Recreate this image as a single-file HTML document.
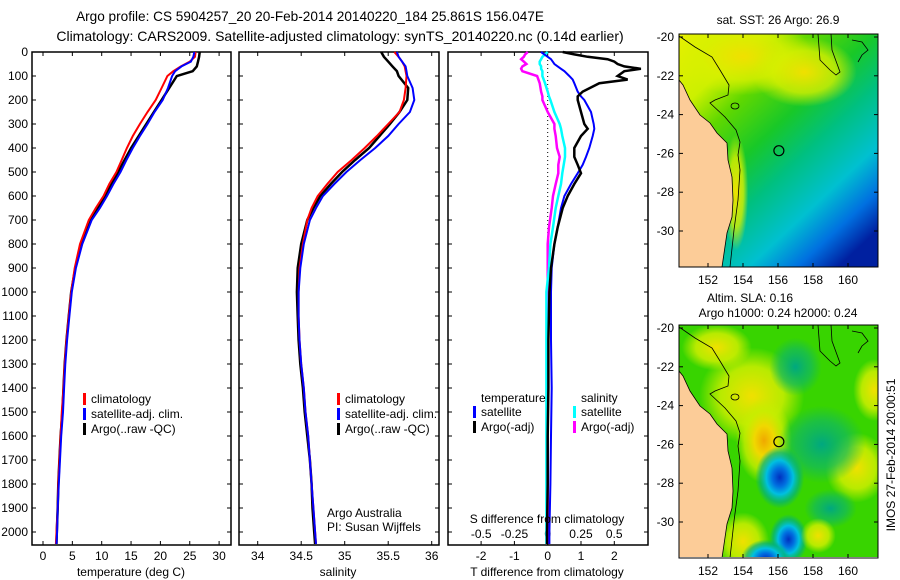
<!DOCTYPE html>
<html><head><meta charset="utf-8"><style>
html,body{margin:0;padding:0;background:#fff;}
svg{display:block;font-family:"Liberation Sans",sans-serif;}
text{fill:#000;}
</style></head><body>
<svg id="fig" width="900" height="580" viewBox="0 0 900 580" xmlns="http://www.w3.org/2000/svg">
<defs>
<linearGradient id="sstGrad" x1="0" y1="0" x2="0.8" y2="1">
<stop offset="0" stop-color="#e8f000"/><stop offset="0.2" stop-color="#ccf000"/><stop offset="0.32" stop-color="#60d800"/><stop offset="0.48" stop-color="#18c828"/><stop offset="0.62" stop-color="#00c080"/><stop offset="0.78" stop-color="#00c0d0"/><stop offset="0.9" stop-color="#0070e0"/><stop offset="1" stop-color="#0020a0"/></linearGradient>
<radialGradient id="bYel"><stop offset="0" stop-color="#f0a800"/><stop offset="0.35" stop-color="#f0d800"/><stop offset="0.7" stop-color="#c8ee00" stop-opacity="0.8"/><stop offset="1" stop-color="#c8ee00" stop-opacity="0"/></radialGradient>
<radialGradient id="bYel2"><stop offset="0" stop-color="#f0e000"/><stop offset="0.6" stop-color="#d8f000" stop-opacity="0.8"/><stop offset="1" stop-color="#d8f000" stop-opacity="0"/></radialGradient>
<radialGradient id="bBlue"><stop offset="0" stop-color="#0030c0"/><stop offset="0.3" stop-color="#0070e0"/><stop offset="0.55" stop-color="#00c0e0"/><stop offset="0.8" stop-color="#00b080" stop-opacity="0.7"/><stop offset="1" stop-color="#00b080" stop-opacity="0"/></radialGradient>
<radialGradient id="bTeal"><stop offset="0" stop-color="#00a880"/><stop offset="0.6" stop-color="#10b860" stop-opacity="0.7"/><stop offset="1" stop-color="#10b860" stop-opacity="0"/></radialGradient>
<clipPath id="clipTop"><rect x="679" y="34" width="199" height="233"/></clipPath>
<clipPath id="clipBot"><rect x="679" y="325" width="199" height="232"/></clipPath>
</defs>
<text x="310" y="21" font-size="13.6" text-anchor="middle">Argo profile: CS 5904257_20 20-Feb-2014 20140220_184 25.861S 156.047E</text>
<text x="340" y="41" font-size="14" text-anchor="middle">Climatology: CARS2009. Satellite-adjusted climatology: synTS_20140220.nc (0.14d earlier)</text>
<g id="g1"></g>
<g id="g2"></g>
<g id="g3"></g>
<g id="m1"></g>
<g id="m2"></g>
<text transform="translate(895,455) rotate(-90)" font-size="12" text-anchor="middle">IMOS 27-Feb-2014 20:00:51</text>
</svg>
<script>
// ---- data ----
const depthsTS = [0,20,40,60,80,100,150,200,250,300,350,400,450,500,550,600,650,700,800,900,1000,1100,1200,1300,1400,1500,1600,1700,1800,1900,2000,2050];
const tempClim = [26.0,25.9,25.0,23.5,22.2,21.2,20.2,19.2,17.8,16.5,15.3,14.3,13.4,12.5,11.3,10.3,9.0,7.8,6.3,5.4,4.8,4.4,4.0,3.7,3.5,3.2,3.0,2.8,2.6,2.5,2.3,2.2];
const tempSat = [25.8,25.6,25.2,23.6,22.5,22.0,21.3,20.4,19.0,17.8,16.5,15.3,14.2,13.2,12.0,10.9,9.7,8.3,6.7,5.6,4.9,4.5,4.1,3.8,3.6,3.4,3.1,2.9,2.7,2.5,2.4,2.3];
const tempArgo = [26.7,26.6,26.4,26.2,25.5,22.8,21.5,20.2,18.9,17.6,16.3,15.0,13.9,12.8,11.7,10.6,9.4,8.2,6.6,5.5,4.8,4.4,4.0,3.7,3.5,3.3,3.0,2.8,2.6,2.5,2.35,2.3];
const salClim = [35.57,35.62,35.66,35.69,35.7,35.71,35.7,35.68,35.63,35.5,35.37,35.23,35.08,34.92,34.8,34.69,34.62,34.57,34.52,34.48,34.47,34.47,34.48,34.5,34.53,34.55,34.58,34.6,34.62,34.64,34.66,34.67];
const salSat = [35.6,35.62,35.66,35.7,35.71,35.72,35.78,35.80,35.75,35.62,35.5,35.35,35.18,35.02,34.88,34.75,34.67,34.6,34.53,34.49,34.47,34.47,34.48,34.5,34.53,34.55,34.58,34.6,34.62,34.64,34.66,34.67];
const salArgo = [35.42,35.45,35.5,35.55,35.6,35.62,35.73,35.72,35.63,35.52,35.4,35.28,35.12,34.97,34.84,34.72,34.64,34.57,34.5,34.46,34.45,34.46,34.47,34.49,34.52,34.54,34.57,34.6,34.62,34.63,34.65,34.66];
const depthsDiff = [0,10,20,30,40,50,60,70,80,100,115,130,165,185,200,250,300,320,350,400,437,470,505,550,600,650,730,800,900,1000,1200,1400,1600,1800,2000,2050];
const dTArgo = [0.45,0.8,1.2,1.8,2.0,2.1,2.3,2.8,2.3,2.1,2.4,1.55,1.05,0.9,0.9,1.0,1.1,1.2,1.0,0.8,0.8,0.9,1.0,0.8,0.6,0.45,0.3,0.2,0.1,0.05,0.02,0.02,0,0,-0.02,-0.02];
const dTSat = [-0.2,-0.1,0,0.1,0.15,0.2,0.3,0.4,0.5,0.65,0.75,0.8,0.9,1.0,1.1,1.3,1.38,1.4,1.35,1.25,1.15,1.05,0.9,0.7,0.5,0.4,0.3,0.2,0.12,0.1,0.1,0.12,0.1,0.08,0.05,0.05];
const dSSat = [0,-0.02,-0.04,-0.05,-0.06,-0.06,-0.05,-0.05,-0.04,-0.04,-0.03,-0.02,0,0.01,0.02,0.05,0.09,0.1,0.11,0.13,0.13,0.12,0.11,0.1,0.08,0.06,0.04,0.02,0.01,-0.01,-0.01,-0.01,-0.01,-0.01,-0.01,-0.01];
const dSArgo = [-0.15,-0.17,-0.18,-0.2,-0.18,-0.16,-0.19,-0.2,-0.19,-0.08,-0.07,-0.06,-0.05,-0.04,-0.04,0,0.05,0.05,0.06,0.07,0.09,0.08,0.08,0.06,0.04,0.03,0.01,0,0,0,0,0,0,0,0,0];
const depthTicks = [0,100,200,300,400,500,600,700,800,900,1000,1100,1200,1300,1400,1500,1600,1700,1800,1900,2000];
const tempTicks = [0,5,10,15,20,25,30];
const salTicks = [34,34.5,35,35.5,36];
const dTTicks = [-2,-1,0,1,2];
const dSTicks = [-0.5,-0.25,0,0.25,0.5];
const latTicks = [-20,-22,-24,-26,-28,-30];
const lonTicks = [152,154,156,158,160];

const NS='http://www.w3.org/2000/svg';
function mk(parent,tag,attrs,txt){const e=document.createElementNS(NS,tag);for(const k in attrs)e.setAttribute(k,attrs[k]);if(txt!==undefined)e.textContent=txt;parent.appendChild(e);return e;}
const yD = d => 52 + d*0.24;
const Y0=52, Y1=545;

function frame(g,x0,x1){
  const r=mk(g,'rect',{x:x0,y:Y0,width:x1-x0,height:Y1-Y0,fill:'none',stroke:'#000','stroke-width':1.5});
  
  
  depthTicks.forEach(d=>{
    mk(g,'line',{x1:x0,x2:x0+4,y1:yD(d),y2:yD(d),stroke:'#000'});
    mk(g,'line',{x1:x1-4,x2:x1,y1:yD(d),y2:yD(d),stroke:'#000'});
  });
}
function series(g,xs,ds,fx,color,w,name){
  const pts=xs.map((v,i)=>fx(v).toFixed(1)+','+yD(ds[i]).toFixed(1)).join(' ');
  const p=mk(g,'polyline',{points:pts,fill:'none',stroke:color,'stroke-width':w,'stroke-linejoin':'miter'});
  
  
}
function xticks(g,ticks,fx,labelY,fmt){
  ticks.forEach(t=>{
    const x=fx(t);
    mk(g,'line',{x1:x,x2:x,y1:Y1,y2:Y1-4,stroke:'#000'});
    mk(g,'line',{x1:x,x2:x,y1:Y0,y2:Y0+4,stroke:'#000'});
    const l=mk(g,'text',{x:x,y:labelY,'font-size':12,'text-anchor':'middle'},fmt?fmt(t):String(t));
    
    
  });
}
function legend(g,x,y,items){
  items.forEach((it,i)=>{
    mk(g,'rect',{x:x,y:y+i*15-10,width:3,height:12,fill:it[1]});
    const t=mk(g,'text',{x:x+8,y:y+i*15,'font-size':12},it[0]);
    
    
  });
}

// Panel 1
const g1=document.getElementById('g1');
const fT = t => 43 + t*5.87;
frame(g1,32,231);
depthTicks.forEach(d=>{const l=mk(g1,'text',{x:28,y:yD(d)+4,'font-size':12,'text-anchor':'end'},String(d));
  
  });
xticks(g1,tempTicks,fT,560);
series(g1,tempArgo,depthsTS,fT,'#000',2.5,'argo-temperature-line');
series(g1,tempClim,depthsTS,fT,'#f00',2,'climatology-temperature-line');
series(g1,tempSat,depthsTS,fT,'#00f',2,'satellite-temperature-line');
legend(g1,83,403,[['climatology','#f00'],['satellite-adj. clim.','#00f'],['Argo(..raw -QC)','#000']]);
mk(g1,'text',{x:131,y:576,'font-size':12,'text-anchor':'middle',},'temperature (deg C)');

// Panel 2
const g2=document.getElementById('g2');
const fS = s => 257.7 + (s-34)*87;
frame(g2,239,439);
xticks(g2,salTicks,fS,560);
series(g2,salArgo,depthsTS,fS,'#000',2.5,'argo-salinity-line');
series(g2,salClim,depthsTS,fS,'#f00',2,'climatology-salinity-line');
series(g2,salSat,depthsTS,fS,'#00f',2,'satellite-salinity-line');
legend(g2,337,403,[['climatology','#f00'],['satellite-adj. clim.','#00f'],['Argo(..raw -QC)','#000']]);
mk(g2,'text',{x:327,y:517,'font-size':12,},'Argo Australia');
mk(g2,'text',{x:327,y:531,'font-size':12,},'PI: Susan Wijffels');
mk(g2,'text',{x:338,y:576,'font-size':12,'text-anchor':'middle',},'salinity');

// Panel 3
const g3=document.getElementById('g3');
const fdT = t => 547.7 + t*33.3;
const fdS = s => 547.7 + s*133;
frame(g3,448,648);
xticks(g3,dTTicks,fdT,560);
dSTicks.forEach(t=>{const l=mk(g3,'text',{x:fdS(t),y:538,'font-size':12,'text-anchor':'middle'},String(t));
  
  });
mk(g3,'line',{x1:fdT(0),x2:fdT(0),y1:Y0,y2:Y1,stroke:'#000','stroke-dasharray':'1,3'});
series(g3,dSArgo,depthsDiff,fdS,'#f0f',2.5,'argo-salinity-diff-line');
series(g3,dSSat,depthsDiff,fdS,'#0ff',2.5,'satellite-salinity-diff-line');
series(g3,dTSat,depthsDiff,fdT,'#00f',2,'satellite-temperature-diff-line');
series(g3,dTArgo,depthsDiff,fdT,'#000',2.5,'argo-temperature-diff-line');
mk(g3,'text',{x:481,y:402,'font-size':12,},'temperature');
mk(g3,'text',{x:581,y:402,'font-size':12,},'salinity');
legend(g3,473,416,[['satellite','#00f'],['Argo(-adj)','#000']]);
legend(g3,573,416,[['satellite','#0ff'],['Argo(-adj)','#f0f']]);
mk(g3,'text',{x:547,y:523,'font-size':12,'text-anchor':'middle',},'S difference from climatology');
mk(g3,'text',{x:547,y:576,'font-size':12,'text-anchor':'middle',},'T difference from climatology');

// Maps
function map(g,top,clip,fill,blobs){
  const fx = lon => 708 + (lon-152)*17.5;
  const fy = lat => top+3 + (-20-lat)*19.4;
  const inner=mk(g,'g',{'clip-path':'url(#'+clip+')'});
  mk(inner,'rect',{x:679,y:top,width:199,height:233,fill:fill});
  blobs.forEach(b=>mk(inner,'ellipse',{cx:fx(b[0]),cy:fy(b[1]),rx:b[2]*17.5,ry:b[3]*19.4,fill:'url(#'+b[4]+')'}));
  const o=top-34;
  const land=[[679,80],[683,85],[690,100],[700,115],[710,123],[717,133],[727,143],[728,160],[732,177],[733,200],[732,217],[727,233],[722,267],[679,267]];
  const lp=mk(inner,'polygon',{points:land.map(p=>p[0]+','+(p[1]+o)).join(' '),fill:'#fccc98',stroke:'#000','stroke-width':0.8});
  
  
  const iso=[[679,36],[695,47],[712,57],[720,70],[729,85],[728,95],[715,100],[710,103],[725,117],[736,130],[740,142],[738,155],[740,170],[738,200],[734,230],[730,267]];
  mk(inner,'polyline',{points:iso.map(p=>p[0]+','+(p[1]+o)).join(' '),fill:'none',stroke:'#000','stroke-width':0.8});
  const iso2=[[818,34],[820,60],[830,70],[836,75],[840,72],[832,50],[831,34]];
  mk(inner,'polyline',{points:iso2.map(p=>p[0]+','+(p[1]+o)).join(' '),fill:'none',stroke:'#000','stroke-width':0.8});
  mk(inner,'polyline',{points:[[852,40],[862,42],[868,50],[862,55],[858,62]].map(p=>p[0]+','+(p[1]+o)).join(' '),fill:'none',stroke:'#000','stroke-width':0.8});
  mk(inner,'ellipse',{cx:735,cy:106+o,rx:4,ry:3,fill:'none',stroke:'#000','stroke-width':0.8});
  const c=mk(g,'circle',{cx:fx(156.05),cy:fy(-25.86),r:5,fill:'none',stroke:'#000','stroke-width':1.2});
  
  
  mk(g,'rect',{x:679,y:top,width:199,height:233,fill:'none',stroke:'#000','stroke-width':1});
  latTicks.forEach(l=>{const y=fy(l);
    mk(g,'line',{x1:679,x2:683,y1:y,y2:y,stroke:'#000'});mk(g,'line',{x1:874,x2:878,y1:y,y2:y,stroke:'#000'});
    const t=mk(g,'text',{x:674,y:y+4,'font-size':12,'text-anchor':'end'},String(l));
    
    });
  lonTicks.forEach(l=>{const x=fx(l);
    mk(g,'line',{x1:x,x2:x,y1:top,y2:top+4,stroke:'#000'});mk(g,'line',{x1:x,x2:x,y1:top+229,y2:top+233,stroke:'#000'});
    const t=mk(g,'text',{x:x,y:top+250,'font-size':12,'text-anchor':'middle'},String(l));
    
    });
}
map(document.getElementById('m1'),34,'clipTop','url(#sstGrad)',[[154,-21,4,2,'bYel2'],[157.5,-21.8,3,1.8,'bYel2'],[153.6,-28,0.7,3,'bYel2']]);
map(document.getElementById('m2'),325,'clipBot','#38d400',[
 [154.5,-23.5,3,2.5,'bYel2'],[155.2,-25.8,1.6,2.2,'bYel'],[157,-22,1.5,1.5,'bTeal'],[156.1,-27.7,1.4,1.6,'bBlue'],
 [160.5,-27.2,1.8,1.8,'bYel2'],[161.5,-23.2,1.2,1.6,'bYel2'],[154,-31,1.5,1.5,'bYel2'],[156.6,-30.9,1.1,1.3,'bBlue'],
 [155.3,-31.9,1.4,1,'bBlue'],[158.5,-26,2.5,2,'bTeal'],[159,-29.3,1.5,1,'bTeal'],[152.5,-21,2,1.2,'bYel2'],[158.3,-30.7,1,0.9,'bYel2']]);
const tm=document.getElementById('m1');
mk(tm,'text',{x:778,y:24,'font-size':12,'text-anchor':'middle',},'sat. SST: 26 Argo: 26.9');
const bm=document.getElementById('m2');
mk(bm,'text',{x:750,y:302,'font-size':12,'text-anchor':'middle',},'Altim. SLA: 0.16');
mk(bm,'text',{x:778,y:317,'font-size':12,'text-anchor':'middle',},'Argo h1000: 0.24 h2000: 0.24');
</script>
</body></html>
